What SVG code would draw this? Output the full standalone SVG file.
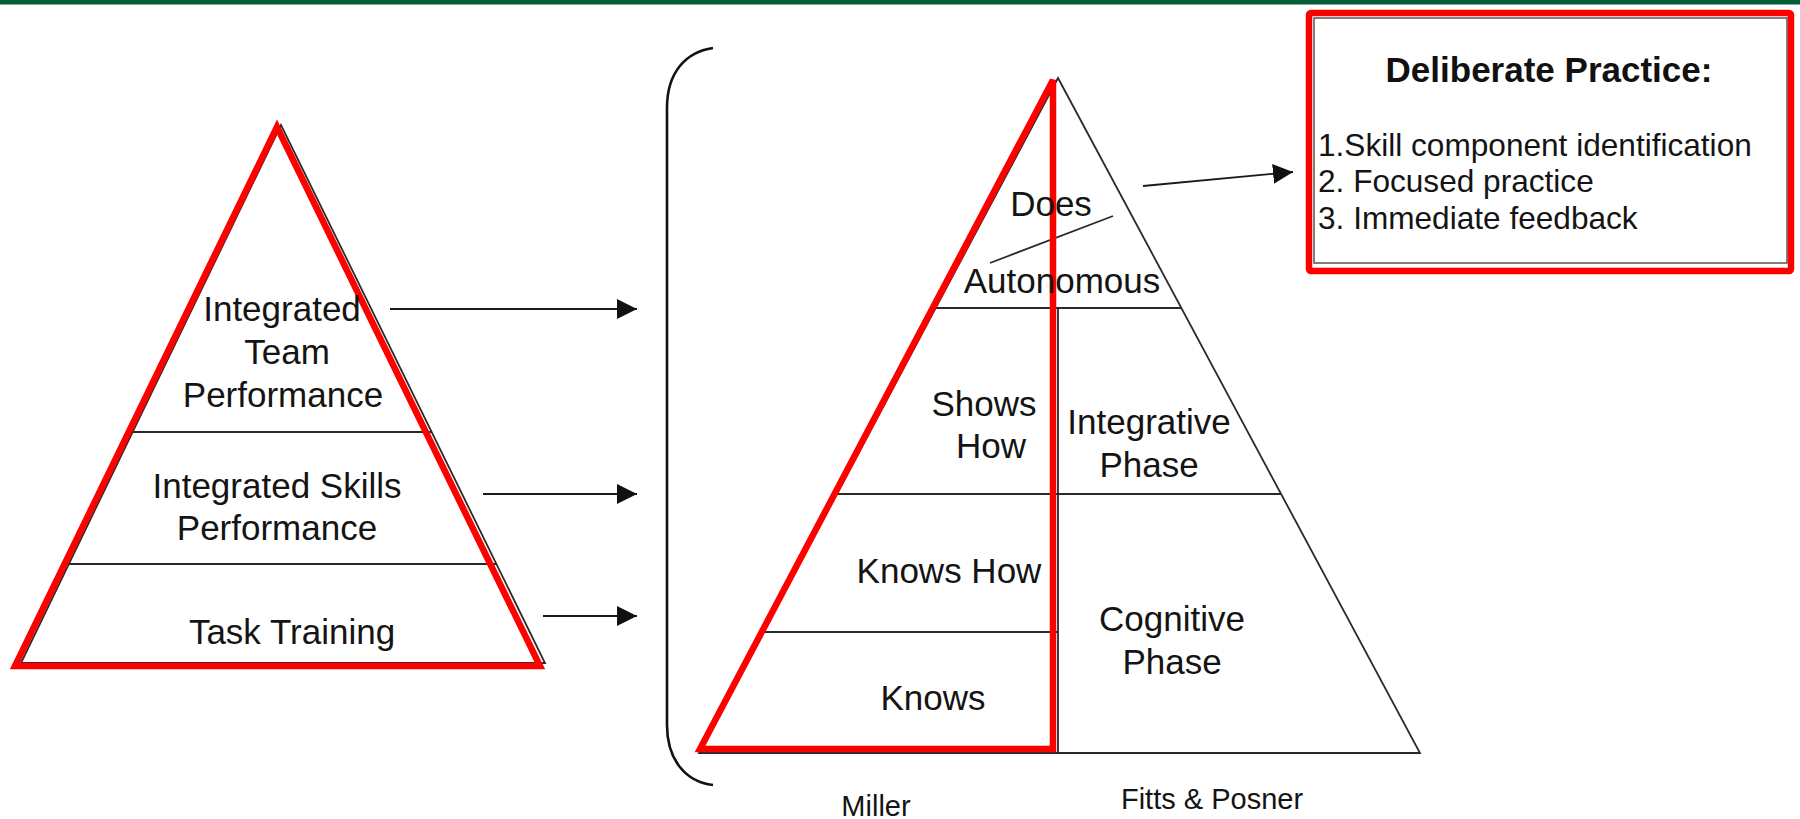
<svg xmlns="http://www.w3.org/2000/svg" width="1800" height="819" viewBox="0 0 1800 819">
<defs>
<marker id="ah" markerWidth="20" markerHeight="20" viewBox="0 0 20 20" refX="20" refY="10" orient="auto" markerUnits="userSpaceOnUse">
<path d="M0,0 L20,10 L0,20 Z" fill="#111"/>
</marker>
<style>
.t{font-family:"Liberation Sans",Arial,sans-serif;font-size:35px;fill:#141414;text-anchor:middle}
.s{font-family:"Liberation Sans",Arial,sans-serif;font-size:29px;fill:#141414;text-anchor:middle}
.l{font-family:"Liberation Sans",Arial,sans-serif;font-size:31.6px;fill:#141414}
.b{font-family:"Liberation Sans",Arial,sans-serif;font-size:35px;font-weight:bold;fill:#111;text-anchor:middle}
.k{fill:none;stroke:#2a2a2a;stroke-width:1.8}
.red{fill:none;stroke:#ff0000;stroke-width:6.5}
.c{stroke:#1a1a1a;stroke-width:1.8;fill:none}
</style>
</defs>
<rect x="0" y="0" width="1800" height="819" fill="#ffffff"/>
<rect x="0" y="0" width="1800" height="4.5" fill="#045d36"/>

<g id="left-pyramid">
<polygon class="k" points="281,125 21,663 545,663"/>
<line class="k" x1="133" y1="432" x2="432" y2="432"/>
<line class="k" x1="69" y1="564" x2="497" y2="564"/>
<polygon class="red" points="277,127 15,666 540,666"/>
<text class="t" x="282" y="321">Integrated</text>
<text class="t" x="287" y="364">Team</text>
<text class="t" x="283" y="407">Performance</text>
<text class="t" x="277" y="498">Integrated Skills</text>
<text class="t" x="277" y="540">Performance</text>
<text class="t" x="292" y="644">Task Training</text>
</g>

<g id="bracket">
<path d="M713,48 C686,52 667,72 667,108 L667,725 C667,760 686,782 713,785" fill="none" stroke="#111" stroke-width="2.6"/>
</g>

<g id="right-pyramid">
<polygon class="k" points="1058,78 699,753 1420,753"/>
<line class="k" x1="936" y1="308" x2="1181" y2="308"/>
<line class="k" x1="837" y1="494" x2="1281" y2="494"/>
<line class="k" x1="763" y1="632" x2="1058" y2="632"/>
<line class="k" x1="1058" y1="308" x2="1058" y2="753"/>
<line class="k" x1="990" y1="263" x2="1113" y2="216"/>
<polygon class="red" points="1053,80 700,749 1053,749"/>
<text class="t" x="1051" y="216">Does</text>
<text class="t" x="1062" y="293">Autonomous</text>
<text class="t" x="984" y="416">Shows</text>
<text class="t" x="991" y="458">How</text>
<text class="t" x="1149" y="434">Integrative</text>
<text class="t" x="1149" y="477">Phase</text>
<text class="t" x="949" y="583">Knows How</text>
<text class="t" x="933" y="710">Knows</text>
<text class="t" x="1172" y="631">Cognitive</text>
<text class="t" x="1172" y="674">Phase</text>
<text class="s" x="876" y="816">Miller</text>
<text class="s" x="1212" y="809">Fitts &amp; Posner</text>
</g>

<g id="deliberate-practice">
<rect x="1314" y="18" width="473" height="245" fill="none" stroke="#555" stroke-width="1.5"/>
<rect x="1309" y="13" width="482" height="258" rx="2" fill="none" stroke="#ff0000" stroke-width="6.5"/>
<text class="b" x="1549" y="82">Deliberate Practice:</text>
<text class="l" x="1318" y="156">1.Skill component identification</text>
<text class="l" x="1318" y="192">2. Focused practice</text>
<text class="l" x="1318" y="229">3. Immediate feedback</text>
</g>

<g id="connectors">
<line class="c" x1="390" y1="309" x2="637" y2="309" marker-end="url(#ah)"/>
<line class="c" x1="483" y1="494" x2="637" y2="494" marker-end="url(#ah)"/>
<line class="c" x1="543" y1="616" x2="637" y2="616" marker-end="url(#ah)"/>
<line class="c" x1="1143" y1="186" x2="1293" y2="172" marker-end="url(#ah)"/>
</g>
</svg>
